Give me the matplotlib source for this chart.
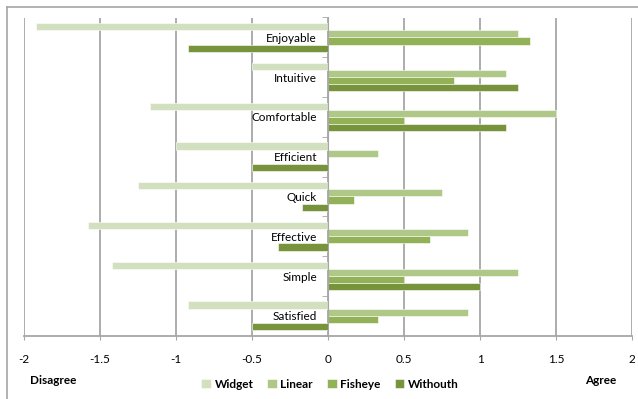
import matplotlib.pyplot as plt
import numpy as np
from matplotlib.lines import Line2D

categories = ['Enjoyable', 'Intuitive', 'Comfortable', 'Efficient',
              'Quick', 'Effective', 'Simple', 'Satisfied']
widget = [-1.92, -0.5, -1.17, -1.0, -1.25, -1.58, -1.42, -0.92]
linear = [1.25, 1.17, 1.5, 0.33, 0.75, 0.92, 1.25, 0.92]
fisheye = [1.33, 0.83, 0.5, 0.0, 0.17, 0.67, 0.5, 0.33]
withouth = [-0.92, 1.25, 1.17, -0.5, -0.17, -0.33, 1.0, -0.5]
series_names = ['Widget', 'Linear', 'Fisheye', 'Withouth']
colors = ['#d3e0bf', '#afc887', '#93b257', '#77933c']
xticks = [-2, -1.5, -1, -0.5, 0, 0.5, 1, 1.5, 2]

plt.rcParams['font.family'] = ['Lato', 'DejaVu Sans']

fig = plt.figure(figsize=(6.38, 3.99), dpi=100)
ax = fig.add_axes([24 / 638, 1 - 335.7 / 399, 608 / 638, 318.2 / 399])

y = np.arange(len(categories))
h = 0.18
for i, (vals, name, c) in enumerate(zip([widget, linear, fisheye, withouth], series_names, colors)):
    ax.barh(y + (i - 1.5) * h, vals, height=h, color=c, edgecolor='white',
            linewidth=0.4, label=name, zorder=3)

ax.set_xlim(-2, 2)
ax.set_ylim(len(categories) - 0.5, -0.5)
ax.set_xticks(xticks)
ax.set_xticklabels(['%g' % t for t in xticks], fontsize=8.5)
ax.tick_params(axis='x', length=3, color='#a6a6a6', pad=10)
ax.grid(axis='x', color='#a6a6a6', linewidth=1.3, zorder=0)

# category labels sit left of the zero line
ax.spines['left'].set_position(('data', 0))
ax.spines['left'].set_color('#a6a6a6')
ax.spines['left'].set_zorder(4)
ax.set_yticks(y)
ax.set_yticklabels(categories, fontsize=8.5)
ax.set_yticks(np.arange(len(categories) + 1) - 0.5, minor=True)
ax.tick_params(axis='y', which='major', length=0, pad=8)
ax.tick_params(axis='y', which='minor', length=4, color='#a6a6a6')
for s in ['top', 'right']:
    ax.spines[s].set_visible(False)
ax.spines['bottom'].set_color('#a6a6a6')
ax.spines['bottom'].set_linewidth(1.3)

# outer chart frame
fig.add_artist(Line2D([7 / 638, 7 / 638], [0, 1 - 7 / 399], color='#a6a6a6', lw=1.2))
fig.add_artist(Line2D([7 / 638, 1], [1 - 7 / 399, 1 - 7 / 399], color='#a6a6a6', lw=1.2))

fig.text(30 / 638, 1 - 380 / 399, 'Disagree', fontsize=8.5, fontweight='bold', va='center')
fig.text(585 / 638, 1 - 380 / 399, 'Agree', fontsize=8.5, fontweight='bold', va='center')

leg = fig.legend(loc='center', bbox_to_anchor=(330 / 638, 1 - 384 / 399), ncol=4,
                 frameon=False, handlelength=0.8, handleheight=0.8,
                 handletextpad=0.3, columnspacing=1.2,
                 prop={'weight': 'bold', 'size': 8.5})

fig.savefig('out.png', dpi=100)
